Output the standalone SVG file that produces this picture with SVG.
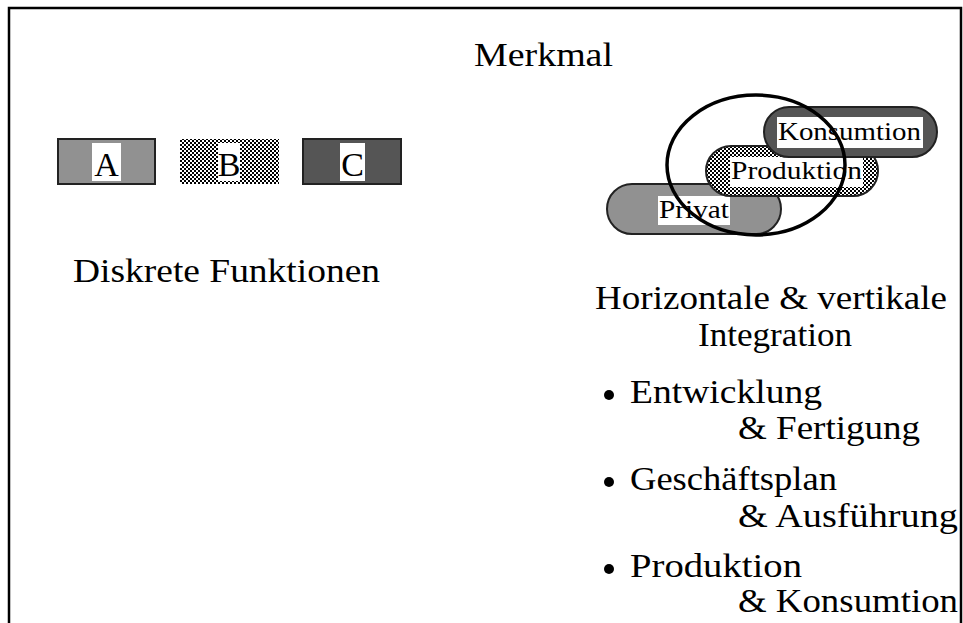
<svg xmlns="http://www.w3.org/2000/svg" width="963" height="623" viewBox="0 0 963 623">
<defs>
<pattern id="chk" width="4" height="4" patternUnits="userSpaceOnUse">
<rect width="4" height="4" fill="#fff"/>
<rect width="2" height="2" fill="#000"/>
<rect x="2" y="2" width="2" height="2" fill="#000"/>
</pattern>
</defs>
<style>
text{font-family:"Liberation Serif","DejaVu Serif",serif;fill:#000}
.big{font-size:34px}
.lbl{font-size:34px;text-anchor:middle}
.sm{font-size:25px}
.box{stroke:#222;stroke-width:2}
.wl{fill:#fff}
</style>
<rect width="963" height="623" fill="#fff"/>
<path d="M9,623 V8 H961 V623" fill="none" stroke="#000" stroke-width="2.5"/>
<text id="title" class="big" x="474" y="66" textLength="139" lengthAdjust="spacingAndGlyphs">Merkmal</text>
<g id="nodeA">
<rect class="box" x="58" y="139" width="97" height="45" fill="#919191"/>
<rect class="wl" x="92" y="143" width="29" height="38"/>
<text class="lbl" x="106.5" y="176">A</text>
</g>
<g id="nodeB">
<rect x="180" y="139" width="99" height="45" fill="url(#chk)"/>
<rect class="wl" x="218" y="143" width="22" height="38"/>
<text class="lbl" x="229" y="176">B</text>
</g>
<g id="nodeC">
<rect class="box" x="303" y="139" width="98" height="45" fill="#555"/>
<rect class="wl" x="340" y="143" width="25" height="38"/>
<text class="lbl" x="352.5" y="176">C</text>
</g>
<text id="diskrete" class="big" x="73" y="282" textLength="307" lengthAdjust="spacingAndGlyphs">Diskrete Funktionen</text>
<g id="privat">
<rect class="box" x="607" y="184" width="174" height="50" rx="25" fill="#919191"/>
<rect class="wl" x="658" y="196" width="72" height="29"/>
<text class="sm" x="659" y="218" textLength="70" lengthAdjust="spacingAndGlyphs">Privat</text>
</g>
<g id="produktion">
<rect class="box" x="706" y="146" width="172" height="50" rx="25" fill="url(#chk)"/>
<rect class="wl" x="730" y="157" width="133" height="30"/>
<text class="sm" x="731" y="179" textLength="131" lengthAdjust="spacingAndGlyphs">Produktion</text>
</g>
<g id="konsumtion">
<rect class="box" x="764" y="107" width="173" height="50" rx="25" fill="#555"/>
<rect class="wl" x="777" y="117" width="146" height="31"/>
<text class="sm" x="778" y="140" textLength="143" lengthAdjust="spacingAndGlyphs">Konsumtion</text>
</g>
<g id="integration-ellipse">
<ellipse cx="756" cy="165" rx="89" ry="70" fill="none" stroke="#000" stroke-width="3.5"/>
</g>
<text class="big" x="595" y="309" textLength="352" lengthAdjust="spacingAndGlyphs">Horizontale &amp; vertikale</text>
<text class="big" x="698" y="346" textLength="154" lengthAdjust="spacingAndGlyphs">Integration</text>
<g id="bullets">
<circle cx="609" cy="395" r="5"/>
<text class="big" x="630" y="403" textLength="192" lengthAdjust="spacingAndGlyphs">Entwicklung</text>
<text class="big" x="738" y="439" textLength="182" lengthAdjust="spacingAndGlyphs">&amp; Fertigung</text>
<circle cx="609" cy="482" r="5"/>
<text class="big" x="630" y="490" textLength="207" lengthAdjust="spacingAndGlyphs">Geschäftsplan</text>
<text class="big" x="738" y="527" textLength="220" lengthAdjust="spacingAndGlyphs">&amp; Ausführung</text>
<circle cx="609" cy="569" r="5"/>
<text class="big" x="630" y="577" textLength="172" lengthAdjust="spacingAndGlyphs">Produktion</text>
<text class="big" x="738" y="612" textLength="220" lengthAdjust="spacingAndGlyphs">&amp; Konsumtion</text>
</g>
</svg>
